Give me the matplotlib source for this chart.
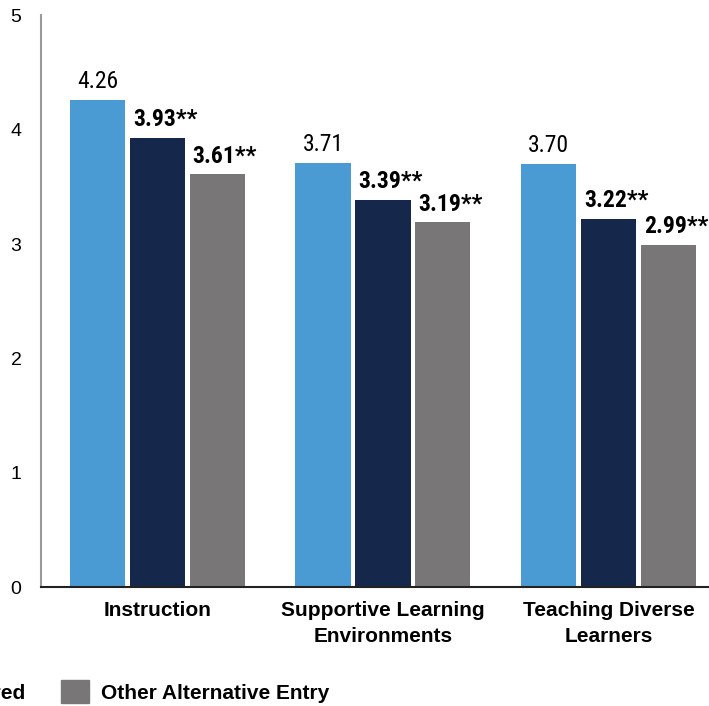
import matplotlib.pyplot as plt
from matplotlib.patches import Patch

# data
categories = ['Instruction', 'Supportive Learning\nEnvironments', 'Teaching Diverse\nLearners']
series_names = ['Traditionally Prepared', 'Residency Prepared', 'Other Alternative Entry']
traditional = [4.26, 3.71, 3.70]
residency = [3.93, 3.39, 3.22]
other_alt = [3.61, 3.19, 2.99]
significant = [False, True, True]

colors = ['#4A9BD4', '#15284B', '#787677']
narrow = ['Roboto Condensed', 'Liberation Sans Narrow', 'Open Sans Condensed', 'DejaVu Sans']

fig = plt.figure(figsize=(7.09, 7.06), dpi=100)
ax = fig.add_axes([41 / 709, 119 / 706, 668 / 709, 571.5 / 706])

width = 0.244
step = 0.266
x = range(len(categories))
for k, vals in enumerate([traditional, residency, other_alt]):
    pos = [i + (k - 1) * step for i in x]
    ax.bar(pos, vals, width=width, color=colors[k], label=series_names[k])
    for p, v in zip(pos, vals):
        if significant[k]:
            ax.annotate(f'{v:.2f}**', (p - width / 2, v), xytext=(2.0, 8.5),
                        textcoords='offset points', ha='left', va='baseline',
                        fontsize=17, fontweight='bold', family=narrow,
                        fontstretch='condensed')
        else:
            ax.annotate(f'{v:.2f}', (p, v), xytext=(0, 8.5),
                        textcoords='offset points', ha='center', va='baseline',
                        fontsize=17, family=narrow, fontstretch='condensed')

ax.set_xlim(-0.5166, 2.4457)
ax.set_ylim(0, 5)
ax.set_yticks([0, 1, 2, 3, 4, 5])
ax.set_xticks(list(x))
ax.set_xticklabels(categories, fontsize=15, fontweight='bold', family='Liberation Sans',
                   linespacing=1.5)
ax.tick_params(axis='x', length=0, pad=10)
ax.tick_params(axis='y', length=0, pad=14, labelsize=14)
for lab in ax.get_yticklabels():
    lab.set_family('Liberation Sans')

ax.spines['top'].set_visible(False)
ax.spines['right'].set_visible(False)
ax.spines['left'].set_color('#9A9A9A')
ax.spines['left'].set_linewidth(1.5)
ax.spines['bottom'].set_color('#222222')
ax.spines['bottom'].set_linewidth(1.5)

handles = [Patch(color=c) for c in colors]
fig.legend(handles, series_names, loc='upper right', bbox_to_anchor=(329 / 709, 26 / 706),
           ncol=3, frameon=False, borderpad=0, borderaxespad=0,
           handlelength=1.35, handleheight=1.35, handletextpad=0.55, columnspacing=1.7,
           prop={'family': 'Liberation Sans', 'weight': 'bold', 'size': 15})

fig.savefig('out.png', dpi=100)
